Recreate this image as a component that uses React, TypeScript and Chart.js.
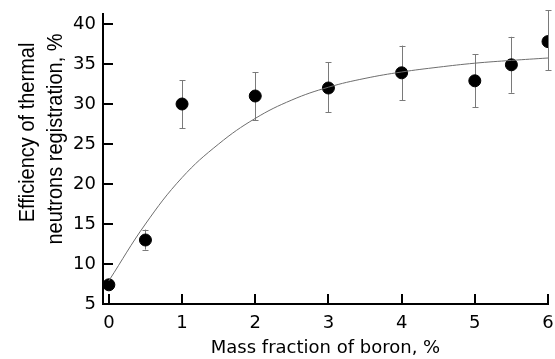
import React, { useEffect, useRef } from "react";
import { Chart, registerables } from "chart.js";

Chart.register(...registerables);

const boronX = [0, 0.5, 1, 2, 3, 4, 5, 5.5, 6];
const efficiency = [7.4, 13, 30, 31, 32, 33.9, 32.9, 34.9, 37.8];
const errLow = [7.4, 11.8, 27, 28, 29, 30.5, 29.6, 31.4, 34.2];
const errHigh = [7.4, 14.3, 33, 34, 35.2, 37.3, 36.2, 38.4, 41.7];

const fitX = [0, 0.5, 1, 1.5, 2, 2.5, 3, 3.5, 4, 4.5, 5, 5.5, 6];
const fitY = [7.9, 15.0, 20.8, 25.0, 28.2, 30.5, 32.1, 33.2, 34.0, 34.6, 35.1, 35.45, 35.75];

const xTicks = [0, 1, 2, 3, 4, 5, 6];
const yTicks = [5, 10, 15, 20, 25, 30, 35, 40];

const xTitle = "Mass fraction of boron, %";
const yTitleLines = ["Efficiency of thermal", "neutrons registration, %"];

const TICK_FONT = "'DejaVu Sans', sans-serif";
const TITLE_FONT = "'Liberation Sans', Arial, sans-serif";

const errorBarPlugin = {
  id: "errorBars",
  beforeDatasetsDraw(chart: any) {
    const ctx = chart.ctx;
    const xs = chart.scales.x;
    const ys = chart.scales.y;
    ctx.save();
    ctx.strokeStyle = "#7a7a7a";
    ctx.lineWidth = 1;
    for (let i = 0; i < boronX.length; i++) {
      if (errHigh[i] - errLow[i] < 0.01) continue;
      const px = Math.round(xs.getPixelForValue(boronX[i])) + 0.5;
      const y1 = ys.getPixelForValue(errLow[i]);
      const y2 = ys.getPixelForValue(errHigh[i]);
      ctx.beginPath();
      ctx.moveTo(px, y1);
      ctx.lineTo(px, y2);
      ctx.moveTo(px - 3, Math.round(y1) + 0.5);
      ctx.lineTo(px + 3, Math.round(y1) + 0.5);
      ctx.moveTo(px - 3, Math.round(y2) + 0.5);
      ctx.lineTo(px + 3, Math.round(y2) + 0.5);
      ctx.stroke();
    }
    ctx.restore();
  },
  afterDraw(chart: any) {
    const ctx = chart.ctx;
    const xs = chart.scales.x;
    const ys = chart.scales.y;
    const area = chart.chartArea;
    ctx.save();
    ctx.strokeStyle = "#000";
    ctx.lineWidth = 2;
    ctx.beginPath();
    for (const v of yTicks) {
      const py = Math.round(ys.getPixelForValue(v));
      ctx.moveTo(area.left, py);
      ctx.lineTo(area.left + 10, py);
    }
    for (const v of xTicks) {
      const px = Math.round(xs.getPixelForValue(v));
      ctx.moveTo(px, area.bottom);
      ctx.lineTo(px, area.bottom - 10);
    }
    ctx.stroke();
    ctx.restore();

    // rotated two-line y-axis title, slightly widened like the original
    const baselineX = [34, 62];
    const centerY = [132.5, 139];
    ctx.save();
    ctx.fillStyle = "#000";
    ctx.font = `20px ${TITLE_FONT}`;
    ctx.textAlign = "center";
    ctx.textBaseline = "alphabetic";
    yTitleLines.forEach((line, i) => {
      ctx.save();
      ctx.translate(baselineX[i], centerY[i]);
      ctx.rotate(-Math.PI / 2);
      ctx.scale(1, 1.12);
      ctx.fillText(line, 0, 0);
      ctx.restore();
    });
    ctx.restore();
  },
};

export default function App() {
  const ref = useRef<HTMLCanvasElement | null>(null);
  useEffect(() => {
    if (!ref.current) return;
    const chart = new Chart(ref.current, {
      type: "scatter",
      data: {
        datasets: [
          {
            type: "line",
            data: fitX.map((x, i) => ({ x, y: fitY[i] })),
            borderColor: "#6e6e6e",
            borderWidth: 1,
            pointRadius: 0,
            tension: 0.4,
            fill: false,
          } as any,
          {
            data: boronX.map((x, i) => ({ x, y: efficiency[i] })),
            backgroundColor: "#000",
            borderColor: "#000",
            pointRadius: 6,
            pointHoverRadius: 6,
          },
        ],
      },
      options: {
        animation: false,
        responsive: false,
        events: [],
        layout: { padding: { top: 14, right: 5, left: 0, bottom: 0 } },
        plugins: { legend: { display: false }, tooltip: { enabled: false } },
        scales: {
          x: {
            type: "linear",
            min: -0.08,
            max: 6,
            afterBuildTicks: (s: any) => {
              s.ticks = xTicks.map((v) => ({ value: v }));
            },
            afterFit: (s: any) => {
              s.height = 55;
              s.paddingLeft = 0;
              s.paddingRight = 0;
            },
            grid: { display: false, drawTicks: false },
            border: { display: true, color: "#000", width: 2 },
            ticks: {
              color: "#000",
              font: { family: TICK_FONT, size: 18 },
              padding: 9,
            },
            title: {
              display: true,
              text: xTitle,
              color: "#000",
              font: { family: TICK_FONT, size: 18 },
              padding: { top: 0, bottom: 0 },
            },
          },
          y: {
            type: "linear",
            min: 5,
            max: 41.25,
            afterBuildTicks: (s: any) => {
              s.ticks = yTicks.map((v) => ({ value: v }));
            },
            afterFit: (s: any) => {
              s.width = 103;
              s.paddingTop = 0;
              s.paddingBottom = 0;
            },
            grid: { display: false, drawTicks: false },
            border: { display: true, color: "#000", width: 2 },
            ticks: {
              color: "#000",
              font: { family: TICK_FONT, size: 18 },
              padding: 7,
            },
            title: { display: false },
          },
        },
      },
      plugins: [errorBarPlugin],
    });
    return () => chart.destroy();
  }, []);
  return (
    <div style={{ position: "fixed", left: 0, top: 0, width: 555, height: 359, background: "#fff" }}>
      <canvas ref={ref} width={555} height={359} style={{ display: "block" }} />
    </div>
  );
}
